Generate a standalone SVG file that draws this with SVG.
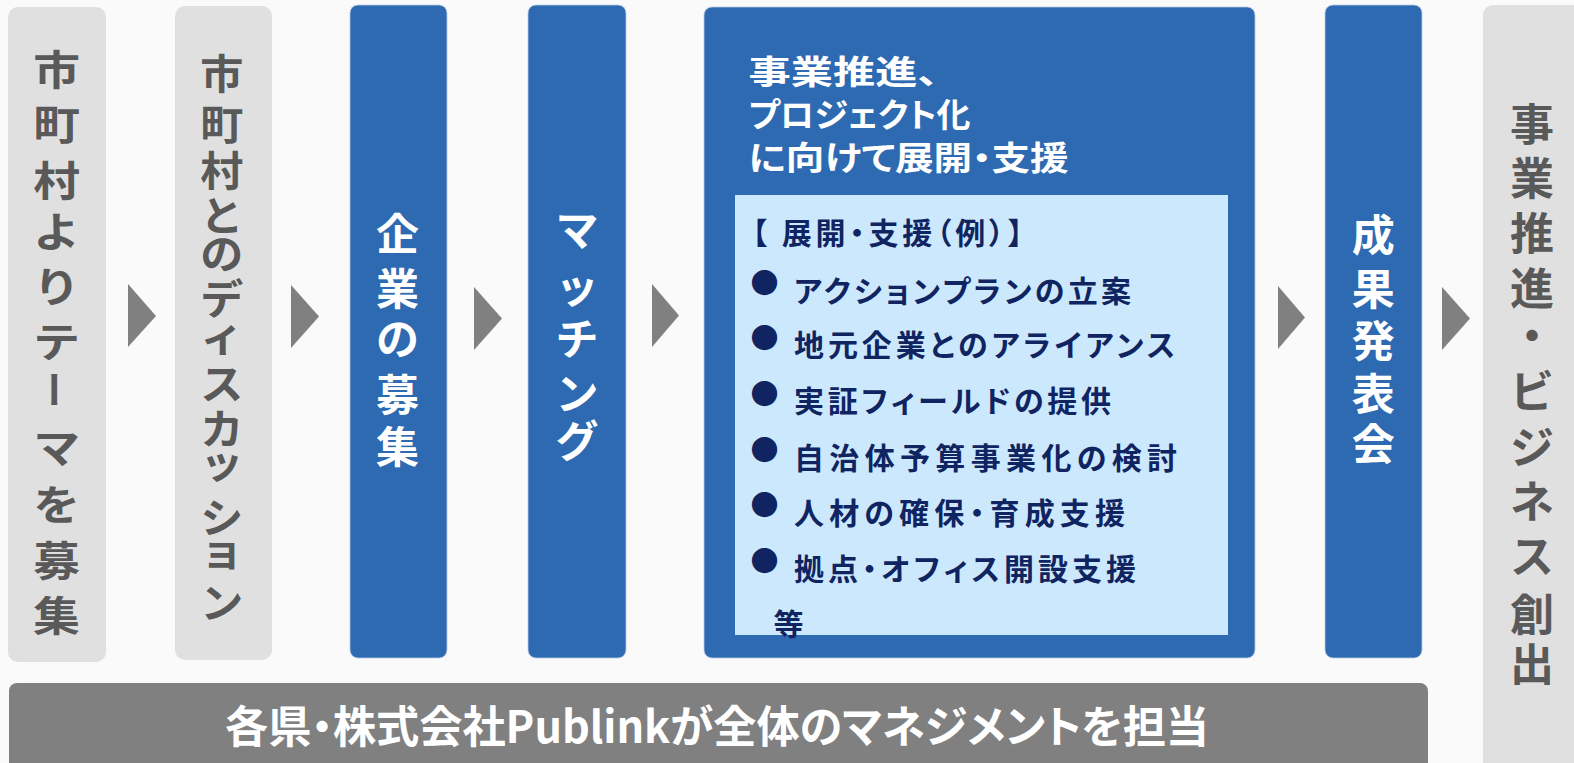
<svg xmlns="http://www.w3.org/2000/svg" width="1574" height="763" viewBox="0 0 1574 763">
  <style>
    text { font-family: "Noto Sans CJK JP", "Noto Sans", sans-serif; font-weight: bold; }
    .gray { fill: #E0E0E0; }
    .blue { fill: #2D6AB1; stroke: #B9CCE6; stroke-width: 0.8; }
    .arrow { fill: #808080; }
    .vg { fill: #595959; text-anchor: middle; }
    .vw { fill: #FFFFFF; text-anchor: middle; }
    .hw { fill: #FFFFFF; font-feature-settings: "palt"; }
    .li { fill: #0F2461; font-size: 30px; font-feature-settings: "palt"; }
    .bul { fill: #0F2461; font-size: 28px; text-anchor: middle; }
  </style>
  <rect x="0" y="0" width="1574" height="763" fill="#FAFAFA"/>

  <g id="connectors">
    <polygon class="arrow" points="128,284 156,316 128,347"/>
    <polygon class="arrow" points="291,285 319,316.5 291,348"/>
    <polygon class="arrow" points="474,287 502,318.5 474,350"/>
    <polygon class="arrow" points="652,284 679,315.5 652,347"/>
    <polygon class="arrow" points="1278,286 1305,317.5 1278,349"/>
    <polygon class="arrow" points="1442,287 1470,318.5 1442,350"/>
  </g>

  <g id="node-theme">
    <rect class="gray" x="8" y="7" width="98" height="655" rx="10"/>
    <g transform="translate(56.7,0) scale(1.14,1)" font-size="41">
      <text x="0" y="85" class="vg">市</text>
      <text x="0" y="140" class="vg">町</text>
      <text x="0" y="196" class="vg">村</text>
      <text x="0" y="247" class="vg">よ</text>
      <text x="0" y="302" class="vg">り</text>
      <text x="0" y="357" class="vg">テ</text>
      <text x="0" y="463" class="vg">マ</text>
      <text x="0" y="520" class="vg">を</text>
      <text x="0" y="576" class="vg">募</text>
      <text x="0" y="631" class="vg">集</text>
    </g>
    <text class="vg" font-size="38" font-weight="normal" transform="translate(56.7,389.5) rotate(90)" x="0" y="0" dominant-baseline="central">ー</text>
  </g>

  <g id="node-discussion">
    <rect class="gray" x="175" y="6" width="97" height="654" rx="10"/>
    <g transform="translate(221.7,0) scale(1.05,1)" font-size="41">
      <text x="0" y="89" class="vg">市</text>
      <text x="0" y="140" class="vg">町</text>
      <text x="0" y="186" class="vg">村</text>
      <text x="0" y="231" class="vg">と</text>
      <text x="0" y="269" class="vg">の</text>
      <text x="0" y="314" class="vg">デ</text>
      <text x="0" y="351" class="vg">ィ</text>
      <text x="0" y="399" class="vg">ス</text>
      <text x="0" y="444" class="vg">カ</text>
      <text x="0" y="478" class="vg">ッ</text>
      <text x="0" y="533" class="vg">シ</text>
      <text x="0" y="566" class="vg">ョ</text>
      <text x="0" y="618" class="vg">ン</text>
    </g>
  </g>

  <g id="node-recruit">
    <rect class="blue" x="350" y="5" width="97" height="653" rx="8"/>
    <g font-size="43">
      <text x="397.5" y="250" class="vw">企</text>
      <text x="397.5" y="305" class="vw">業</text>
      <text x="397.5" y="355" class="vw">の</text>
      <text x="397.5" y="411" class="vw">募</text>
      <text x="397.5" y="463" class="vw">集</text>
    </g>
  </g>

  <g id="node-matching">
    <rect class="blue" x="528" y="5" width="98" height="653" rx="8"/>
    <g font-size="43">
      <text x="577" y="246" class="vw">マ</text>
      <text x="577" y="303" class="vw">ッ</text>
      <text x="577" y="355" class="vw">チ</text>
      <text x="577" y="410" class="vw">ン</text>
      <text x="577" y="457" class="vw">グ</text>
    </g>
  </g>

  <g id="node-support">
    <rect class="blue" x="704" y="7" width="551" height="651" rx="8"/>
    <text class="hw" font-size="33" x="748.5" y="84" textLength="190" lengthAdjust="spacingAndGlyphs">事業推進、</text>
    <text class="hw" font-size="33" x="748.5" y="127" textLength="222" lengthAdjust="spacingAndGlyphs">プロジェクト化</text>
    <text class="hw" font-size="33" x="748.5" y="170" textLength="320" lengthAdjust="spacingAndGlyphs">に向けて展開・支援</text>
    <rect x="735" y="195" width="493" height="440" fill="#CCE8FD"/>
    <text class="li" x="752" y="244" textLength="271">【 展開・支援（例）】</text>
    <text class="bul" x="764.5" y="294">●</text>
    <text class="li" x="794" y="301.5" textLength="337">アクションプランの立案</text>
    <text class="bul" x="764.5" y="349">●</text>
    <text class="li" x="794" y="356" textLength="381">地元企業とのアライアンス</text>
    <text class="bul" x="764.5" y="405">●</text>
    <text class="li" x="794" y="412" textLength="317">実証フィールドの提供</text>
    <text class="bul" x="764.5" y="461">●</text>
    <text class="li" x="794" y="468.5" textLength="383">自治体予算事業化の検討</text>
    <text class="bul" x="764.5" y="516">●</text>
    <text class="li" x="794" y="524" textLength="331">人材の確保・育成支援</text>
    <text class="bul" x="764.5" y="572">●</text>
    <text class="li" x="794" y="580" textLength="342">拠点・オフィス開設支援</text>
    <text class="li" x="773.5" y="635">等</text>
  </g>

  <g id="node-presentation">
    <rect class="blue" x="1325" y="5" width="97" height="653" rx="8"/>
    <g font-size="43">
      <text x="1373.3" y="251" class="vw">成</text>
      <text x="1373.3" y="305" class="vw">果</text>
      <text x="1373.3" y="357" class="vw">発</text>
      <text x="1373.3" y="410" class="vw">表</text>
      <text x="1373.3" y="460" class="vw">会</text>
    </g>
  </g>

  <g id="node-business">
    <rect class="gray" x="1483" y="5" width="110" height="780" rx="10"/>
    <g font-size="44">
      <text x="1532" y="141" class="vg">事</text>
      <text x="1532" y="195" class="vg">業</text>
      <text x="1532" y="250" class="vg">推</text>
      <text x="1532" y="305" class="vg">進</text>
      <text x="1532" y="352" class="vg">・</text>
      <text x="1532" y="408" class="vg">ビ</text>
      <text x="1532" y="464" class="vg">ジ</text>
      <text x="1532" y="518" class="vg">ネ</text>
      <text x="1532" y="573" class="vg">ス</text>
      <text x="1532" y="631" class="vg">創</text>
      <text x="1532" y="681" class="vg">出</text>
    </g>
  </g>

  <g id="node-management">
    <rect x="9" y="683" width="1419" height="100" rx="8" fill="#808080"/>
    <text class="hw" font-size="44" x="225" y="743" textLength="984" lengthAdjust="spacingAndGlyphs">各県・株式会社Publinkが全体のマネジメントを担当</text>
  </g>
</svg>
